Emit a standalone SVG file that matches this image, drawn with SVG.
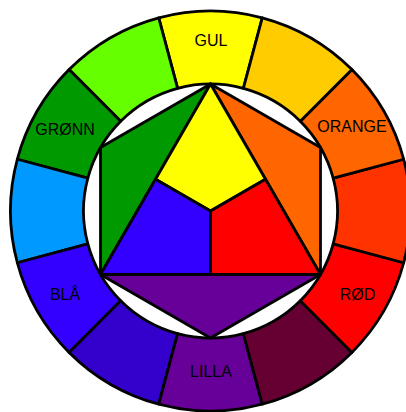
<svg xmlns="http://www.w3.org/2000/svg" width="406" height="412" viewBox="0 0 406 412">
<style>
.s{stroke:#000;stroke-width:2.8;stroke-linejoin:round}
.t{font-family:"Liberation Sans",Arial,sans-serif;font-size:16px;fill:#000;text-anchor:middle}
</style>
<rect width="406" height="412" fill="#fff"/>
<g id="ring">
<g id="seg-gul"><path class="s" fill="#FFFF00" d="M262.26,17.82 A200,200 0 0 0 158.74,17.82 L177.63,88.33 A127,127 0 0 1 243.37,88.33 Z"/></g>
<g id="seg-yellowgreen"><path class="s" fill="#66FF00" d="M158.74,17.82 A200,200 0 0 0 69.08,69.58 L120.70,121.20 A127,127 0 0 1 177.63,88.33 Z"/></g>
<g id="seg-gronn"><path class="s" fill="#009900" d="M69.08,69.58 A200,200 0 0 0 17.32,159.24 L87.83,178.13 A127,127 0 0 1 120.70,121.20 Z"/></g>
<g id="seg-bluegreen"><path class="s" fill="#0099FF" d="M17.32,159.24 A200,200 0 0 0 17.32,262.76 L87.83,243.87 A127,127 0 0 1 87.83,178.13 Z"/></g>
<g id="seg-bla"><path class="s" fill="#3300FF" d="M17.32,262.76 A200,200 0 0 0 69.08,352.42 L120.70,300.80 A127,127 0 0 1 87.83,243.87 Z"/></g>
<g id="seg-blueviolet"><path class="s" fill="#3300CC" d="M69.08,352.42 A200,200 0 0 0 158.74,404.18 L177.63,333.67 A127,127 0 0 1 120.70,300.80 Z"/></g>
<g id="seg-lilla"><path class="s" fill="#660099" d="M158.74,404.18 A200,200 0 0 0 262.26,404.18 L243.37,333.67 A127,127 0 0 1 177.63,333.67 Z"/></g>
<g id="seg-redviolet"><path class="s" fill="#660033" d="M262.26,404.18 A200,200 0 0 0 351.92,352.42 L300.30,300.80 A127,127 0 0 1 243.37,333.67 Z"/></g>
<g id="seg-rod"><path class="s" fill="#FF0000" d="M351.92,352.42 A200,200 0 0 0 403.68,262.76 L333.17,243.87 A127,127 0 0 1 300.30,300.80 Z"/></g>
<g id="seg-redorange"><path class="s" fill="#FF3300" d="M403.68,262.76 A200,200 0 0 0 403.68,159.24 L333.17,178.13 A127,127 0 0 1 333.17,243.87 Z"/></g>
<g id="seg-orange"><path class="s" fill="#FF6600" d="M403.68,159.24 A200,200 0 0 0 351.92,69.58 L300.30,121.20 A127,127 0 0 1 333.17,178.13 Z"/></g>
<g id="seg-yelloworange"><path class="s" fill="#FFCC00" d="M351.92,69.58 A200,200 0 0 0 262.26,17.82 L243.37,88.33 A127,127 0 0 1 300.30,121.20 Z"/></g>
</g>
<g id="inner">
<g id="hex-green"><path class="s" fill="#009900" d="M210.5,84 L100.51,147.5 L100.51,274.5 Z"/></g>
<g id="hex-orange"><path class="s" fill="#FF6600" d="M210.5,84 L320.49,147.5 L320.49,274.5 Z"/></g>
<g id="hex-violet"><path class="s" fill="#660099" d="M100.51,274.5 L210.5,338 L320.49,274.5 Z"/></g>
<g id="tri-yellow"><path class="s" fill="#FFFF00" d="M210.5,84 L265.5,179.25 L210.5,211 L155.5,179.25 Z"/></g>
<g id="tri-blue"><path class="s" fill="#3300FF" d="M155.5,179.25 L210.5,211 L210.5,274.5 L100.51,274.5 Z"/></g>
<g id="tri-red"><path class="s" fill="#FF0000" d="M265.5,179.25 L320.49,274.5 L210.5,274.5 L210.5,211 Z"/></g>
</g>
<g id="labels">
<text class="t" x="211" y="46">GUL</text>
<text class="t" x="65" y="135">GRØNN</text>
<text class="t" x="352" y="132">ORANGE</text>
<text class="t" x="65" y="300">BLÅ</text>
<text class="t" x="357.5" y="300">RØD</text>
<text class="t" x="211" y="377">LILLA</text>
</g>
</svg>
